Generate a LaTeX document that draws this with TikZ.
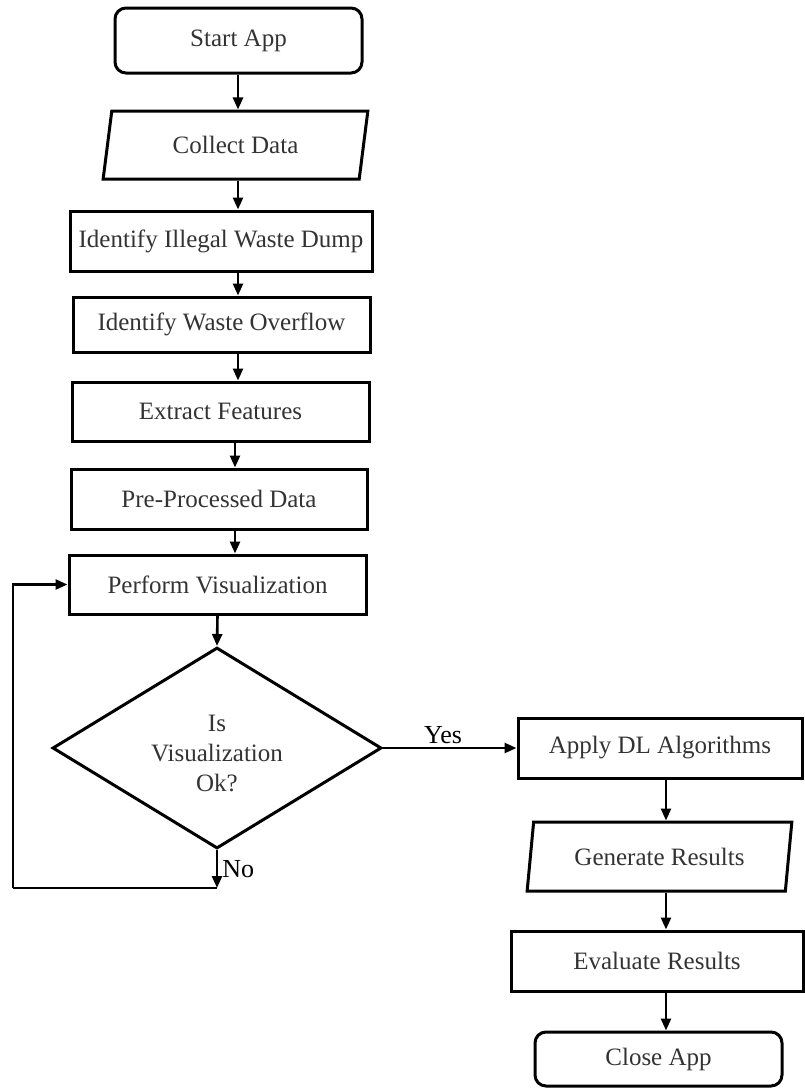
\documentclass[tikz,border=0pt]{standalone}
\usepackage{fontspec}
\setmainfont{Liberation Serif}
\usetikzlibrary{arrows.meta,shapes.geometric}
\definecolor{txt}{HTML}{333333}
\tikzset{
  box/.style={draw=black, line width=3pt, rectangle, inner sep=0pt, text=txt, font=\fontsize{25}{29}\selectfont},
  term/.style={box, rounded corners=11pt},
  io/.style={box, trapezium, trapezium left angle=76, trapezium right angle=104, trapezium stretches=true},
  decision/.style={box, diamond},
  dtext/.style={align=center, text=txt, font=\fontsize{25}{30}\selectfont, inner sep=0pt},
  arr/.style={line width=2.6pt, -{Triangle[length=12pt,width=10pt]}},
  lnk/.style={line width=2.6pt},
  lbl/.style={font=\fontsize{26}{28}\selectfont, text=black, inner sep=0pt}
}
\begin{document}
\begin{tikzpicture}[x=1pt,y=-1pt]
\useasboundingbox (0,0) rectangle (805,1088);
% left column
\node[term, minimum width=247pt, minimum height=65pt] (sa) at (238.5,40.5) {Start App};
\node[io, minimum width=265pt, minimum height=68pt] (cd) at (235.5,145) {Collect Data};
\node[box, minimum width=302pt, minimum height=60pt] (id1) at (221,241) {Identify Illegal Waste Dump};
\node[box, minimum width=297pt, minimum height=55pt] (id2) at (221.5,324.5) {Identify Waste Overflow};
\node[box, minimum width=297pt, minimum height=59pt] (ef) at (220.5,411.5) {Extract Features};
\node[box, minimum width=296pt, minimum height=60pt] (pp) at (219,499) {Pre-Processed Data};
\node[box, minimum width=297pt, minimum height=59pt] (pv) at (217.5,584.5) {Perform Visualization};
\node[decision, minimum width=329pt, minimum height=201pt,
      label={[dtext, yshift=-5pt]center:Is\\Visualization\\Ok?}] (dia) at (217,748) {};
% right column
\node[box, minimum width=284pt, minimum height=60pt] (dl) at (660,748) {Apply DL Algorithms};
\node[io, minimum width=265pt, minimum height=69pt] (gr) at (659.5,856.5) {Generate Results};
\node[box, minimum width=292pt, minimum height=60pt] (er) at (657,961) {Evaluate Results};
\node[term, minimum width=247pt, minimum height=54pt] (ca) at (658.5,1059) {Close App};
% spines
\coordinate (sp1) at (238,0);
\coordinate (sp2) at (235,0);
\coordinate (sp3) at (666,0);
\coordinate (nb) at (217,888);
\coordinate (lb) at (13,888);
% connectors
\draw[arr] (sa.south -| sp1) -- (cd.north -| sp1);
\draw[arr] (cd.south -| sp1) -- (id1.north -| sp1);
\draw[arr] (id1.south -| sp1) -- (id2.north -| sp1);
\draw[arr] (id2.south -| sp1) -- (ef.north -| sp1);
\draw[arr] (ef.south -| sp2) -- (pp.north -| sp2);
\draw[arr] (pp.south -| sp2) -- (pv.north -| sp2);
\draw[arr] (pv.south) -- (dia.north);
\draw[arr] (dia.east) -- node[lbl, above=3pt, pos=0.45] {Yes} (dl.west);
\draw[arr] (dia.south) -- node[lbl, right=4pt, pos=0.5] {No} (nb);
\draw[lnk] (nb) -- (lb);
\draw[arr] (lb) |- (pv.west);
\draw[arr] (dl.south -| sp3) -- (gr.north -| sp3);
\draw[arr] (gr.south -| sp3) -- (er.north -| sp3);
\draw[arr] (er.south -| sp3) -- (ca.north -| sp3);
\end{tikzpicture}
\end{document}
